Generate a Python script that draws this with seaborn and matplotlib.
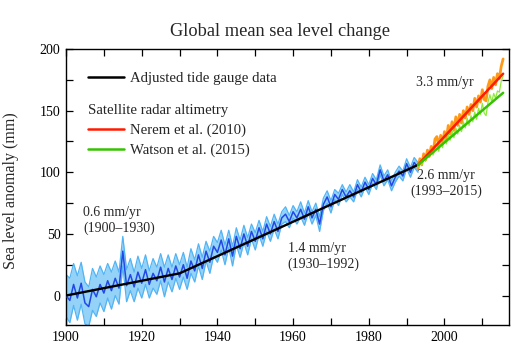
import numpy as np
import pandas as pd
import matplotlib
matplotlib.use("Agg")
import matplotlib.pyplot as plt
from matplotlib.lines import Line2D
from matplotlib.ticker import MultipleLocator
import seaborn as sns

# ---------------- data ----------------
tide_years = list(range(1900, 1994))
tide_vals = [0, -4, 9, -2, 10, -6, -9, 5, -1, 9,
             2, 12, 4, 14, 6, 36, 8, 17, 7, 19,
             10, 21, 9, 18, 12, 23, 11, 22, 13, 24,
             15, 25, 14, 28, 20, 33, 22, 36, 27, 40,
             35, 45, 33, 46, 32, 48, 38, 50, 40, 52,
             44, 55, 46, 58, 50, 60, 52, 63, 66, 60,
             68, 63, 70, 62, 72, 63, 70, 58, 74, 80,
             72, 82, 78, 86, 80, 85, 80, 90, 84, 92,
             86, 95, 90, 102, 93, 98, 89, 96, 101, 97,
             107, 100, 108, 104]
tide_unc = [17, 18, 17, 18, 17, 17, 16, 17, 16, 15,
            15, 14, 15, 14, 13, 12, 13, 13, 12, 13,
            12, 12, 11, 12, 11, 11, 12, 11, 10, 10,
            10, 10, 9, 10, 9, 9, 9, 8, 9, 8,
            8, 8, 8, 7, 8, 7, 7, 7, 7, 6,
            7, 6, 6, 6, 6, 6, 6, 5, 6, 5,
            5, 5, 6, 5, 5, 5, 5, 6, 5, 5,
            5, 4, 5, 4, 4, 5, 4, 4, 4, 4,
            4, 4, 4, 4, 4, 4, 4, 4, 4, 4,
            4, 4, 4, 4]

trend_years = [1900, 1930, 1993]
trend_vals = [0, 18, 106]

sat_years = [1993.0 + 0.5 * i for i in range(46)]
nerem_vals = [103, 111, 106, 115, 110, 118, 113, 121, 116, 127,
              129, 121, 130, 124, 133, 127, 138, 131, 141, 134,
              145, 138, 147, 140, 150, 144, 153, 147, 155, 150,
              160, 153, 162, 157, 167, 159, 158, 170, 175, 168,
              177, 171, 180, 176, 186, 192]
watson_vals = [104, 109, 106, 112, 109, 115, 112, 118, 114, 121,
               123, 117, 125, 120, 128, 123, 131, 126, 134, 128,
               136, 131, 138, 133, 141, 136, 144, 138, 146, 141,
               149, 143, 152, 147, 156, 148, 146, 157, 163, 157,
               164, 160, 166, 165, 174, 178]

nerem_trend_years = [1993, 2015.5]
nerem_trend_vals = [106, 180]
watson_trend_years = [1993, 2015.5]
watson_trend_vals = [106, 164.5]

x_ticks = [1900, 1920, 1940, 1960, 1980, 2000]
y_ticks = [0, 50, 100, 150, 200]

# ---------------- style ----------------
sns.set_theme(style="ticks")
plt.rcParams['font.family'] = ['Liberation Serif', 'DejaVu Serif']

fig = plt.figure(figsize=(5.24, 3.53), dpi=100)
ax = fig.add_axes([0.126, 0.079, 0.971 - 0.126, 0.861 - 0.079])

tide = pd.DataFrame({"year": tide_years, "val": tide_vals, "unc": tide_unc})
tide["lo"] = tide["val"] - tide["unc"]
tide["hi"] = tide["val"] + tide["unc"]

band_fill = "#94D2F8"
band_edge = "#52B4F4"
ax.fill_between(tide["year"], tide["lo"], tide["hi"], color=band_fill, lw=0, zorder=1)
sns.lineplot(data=tide, x="year", y="lo", ax=ax, color=band_edge, lw=0.9, zorder=2)
sns.lineplot(data=tide, x="year", y="hi", ax=ax, color=band_edge, lw=0.9, zorder=2)
sns.lineplot(data=tide, x="year", y="val", ax=ax, color="#2248E6", lw=1.1, zorder=3)

sns.lineplot(x=trend_years, y=trend_vals, ax=ax, color="black", lw=1.7, zorder=4)

sns.lineplot(x=sat_years, y=nerem_vals, ax=ax, color="#FF9A18", lw=2.0, zorder=5)
sns.lineplot(x=sat_years, y=watson_vals, ax=ax, color="#8EEA3A", lw=0.9, zorder=6)
sns.lineplot(x=nerem_trend_years, y=nerem_trend_vals, ax=ax, color="#FF1A00", lw=1.8, zorder=7)
sns.lineplot(x=watson_trend_years, y=watson_trend_vals, ax=ax, color="#36C200", lw=1.8, zorder=8)

ax.set_xlim(1900, 2017)
ax.set_ylim(-24, 200)
ax.set_xticks(x_ticks)
ax.set_yticks(y_ticks)
ax.xaxis.set_minor_locator(MultipleLocator(10))
ax.yaxis.set_minor_locator(MultipleLocator(25))
ax.tick_params(which="both", direction="in", length=5, width=0.9, top=True, right=True,
               labelsize=10, colors="black", pad=4)
for s in ax.spines.values():
    s.set_linewidth(1.0)
    s.set_color("black")

ax.set_xlabel("")
ax.set_ylabel("Sea level anomaly (mm)", fontsize=11.5)
ax.yaxis.set_label_coords(-0.106, 0.486)

fig.text(279.5 / 524, 1 - 32 / 353, "Global mean sea level change", fontsize=13.2,
         ha="center", va="center")

# annotations
ann = dict(fontsize=10, linespacing=1.2)
ax.text(1904.5, 61, "0.6 mm/yr\n(1900\u20131930)", ha="left", va="center", **ann)
ax.text(1958.6, 31.7, "1.4 mm/yr\n(1930\u20131992)", ha="left", va="center", **ann)
ax.text(2000, 173, "3.3 mm/yr", ha="center", va="center", **ann)
ax.text(2000.5, 90.7, "2.6 mm/yr\n(1993\u20132015)", ha="center", va="center", **ann)

# legends
leg1 = ax.legend(handles=[Line2D([], [], color="black", lw=1.8)],
                 labels=["Adjusted tide gauge data"], loc="center left",
                 bbox_to_anchor=(0.05, 0.895), frameon=False, fontsize=10.6,
                 borderpad=0, borderaxespad=0, handlelength=2.45, handletextpad=0.4)
ax.add_artist(leg1)
leg2 = ax.legend(handles=[Line2D([], [], color="#FF1A00", lw=1.8),
                          Line2D([], [], color="#36C200", lw=1.8)],
                 labels=["Nerem et al. (2010)", "Watson et al. (2015)"],
                 title="Satellite radar altimetry", title_fontsize=10.6,
                 alignment="left", loc="upper left",
                 bbox_to_anchor=(0.05, 0.80), frameon=False, fontsize=10.6,
                 borderpad=0, borderaxespad=0, handlelength=2.45, handletextpad=0.4,
                 labelspacing=0.45)

fig.savefig("out.png", dpi=100)
